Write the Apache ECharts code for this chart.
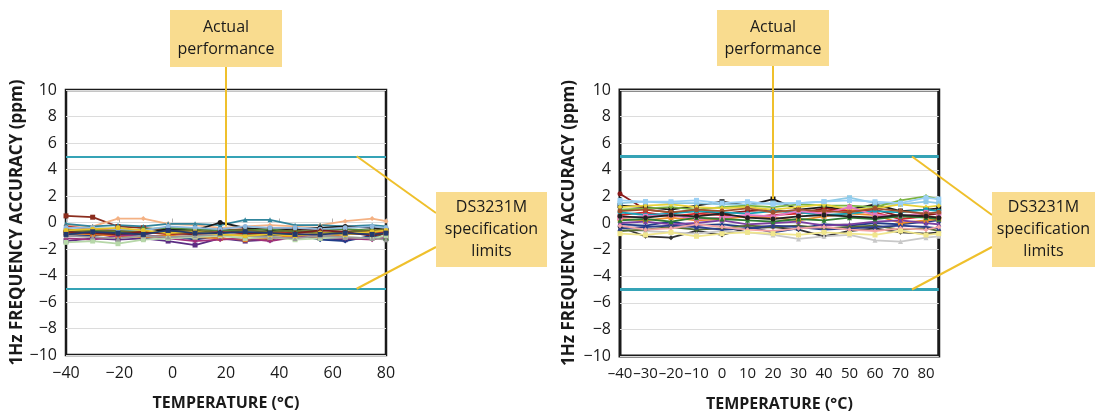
<!DOCTYPE html>
<html lang="en">
<head>
<meta charset="UTF-8">
<title>DS3231M accuracy</title>
<script src="https://cdn.jsdelivr.net/npm/echarts@6/dist/echarts.min.js"></script>
<style>
    html, body { margin: 0; padding: 0; background: #fff; }
    #main { width: 1098px; height: 412px; }
</style>
</head>
<body>
<div id="main"></div>
<script>
    // left chart: temperature samples (deg C)
    var leftTemps = [-40, -30, -20.5, -11, -1.7, 8.4, 17.8, 27.2, 36.5, 45.9, 55.3, 64.7, 74.8, 80]
    var leftColors = ['#8b2d1e', '#f4b183', '#31859c', '#1a1a1a', '#5b2c83', '#1f3c88', '#c0392b', '#4e8a3a', '#e67e22',
        '#a0307a', '#6b6b2a', '#8fb8de', '#b6d7a8', '#7a1f1f', '#999999', '#e6c229', '#233a6e']
    var leftRuns = [
        [0.5, 0.4, -0.3, -0.4, -0.6, -0.7, -0.6, -0.5, -0.5, -0.5, -0.6, -0.5, -0.7, -0.6],
        [-0.2, -0.3, 0.3, 0.3, -0.1, -0.2, -0.4, -0.3, -0.2, -0.3, -0.2, 0.1, 0.3, 0.1],
        [-0.1, -0.3, -0.2, -0.3, -0.1, -0.1, -0.2, 0.2, 0.2, -0.2, -0.2, -0.3, -0.2, -0.3],
        [-0.6, -0.9, -0.8, -0.8, -0.5, -0.6, 0.0, -0.4, -0.6, -0.5, -0.4, -0.3, -0.4, -0.5],
        [-1.4, -1.2, -1.3, -1.2, -1.4, -1.7, -1.2, -1.4, -1.3, -1.0, -1.2, -1.3, -1.1, -1.2],
        [-0.9, -1.0, -0.8, -1.1, -1.0, -1.3, -1.0, -0.9, -1.0, -0.9, -1.3, -1.4, -1.0, -1.1],
        [-0.3, -0.5, -0.6, -0.7, -0.9, -0.8, -1.1, -0.8, -0.7, -0.8, -0.7, -0.9, -0.8, -0.7],
        [-0.7, -0.6, -0.7, -0.5, -0.4, -0.5, -0.6, -0.6, -0.5, -0.7, -0.6, -0.5, -0.6, -1.3],
        [-0.8, -0.9, -1.0, -1.1, -1.0, -1.1, -1.2, -1.3, -1.2, -1.0, -1.1, -0.9, -0.8, -0.9],
        [-1.2, -1.3, -1.0, -0.9, -1.2, -1.4, -1.3, -1.2, -1.4, -1.1, -1.0, -1.2, -1.3, -1.1],
        [-0.5, -0.7, -0.6, -0.8, -0.7, -0.6, -0.8, -0.6, -0.7, -0.6, -0.8, -0.7, -0.6, -0.5],
        [-0.4, -0.4, -0.5, -0.6, -0.3, -0.4, -0.5, -0.3, -0.4, -0.4, -0.5, -0.4, -0.3, -0.4],
        [-1.5, -1.4, -1.6, -1.3, -1.2, -1.1, -1.0, -1.2, -1.1, -1.3, -1.2, -1.1, -1.2, -1.0],
        [-0.7, -0.8, -0.9, -0.7, -0.8, -0.9, -0.7, -0.8, -0.9, -0.8, -0.6, -0.7, -1.0, -0.8],
        [-1.0, -1.1, -1.2, -1.0, -1.1, -1.0, -0.9, -1.0, -1.1, -1.2, -1.0, -1.1, -1.2, -1.3],
        [-0.6, -0.5, -0.4, -0.6, -0.8, -0.7, -0.9, -1.0, -0.9, -1.0, -0.8, -0.9, -0.7, -0.6],
        [-0.9, -0.7, -0.8, -0.9, -0.6, -0.8, -0.8, -0.7, -0.8, -0.9, -0.9, -0.8, -0.9, -0.8]
    ]

    // right chart
    var rightTemps = [-40, -30, -20, -10, 0, 10, 20, 30, 40, 50, 60, 70, 80, 85]
    var rightColors = ['#1a1a1a', '#333333', '#c8c8c8', '#8b1a1a', '#8ecae6', '#7cb342', '#1f3c88', '#d62728', '#f28e2b',
        '#e8d23b', '#7b3fa0', '#17a2b8', '#e377c2', '#556b2f', '#2c3e8c', '#a0522d', '#9ad0f5', '#f4a6a6', '#2e7d32',
        '#222222', '#f0e68c']
    var rightRuns = [
        [1.3, 1.2, 1.0, 1.3, 1.6, 1.3, 1.8, 1.0, 1.2, 1.0, 1.4, 0.9, 1.0, 1.1],
        [-0.3, -1.0, -1.1, -0.6, -0.9, -0.4, -0.3, -0.5, -1.0, -0.6, -0.4, -0.7, -0.8, -0.7],
        [-0.5, -0.6, -0.7, -0.8, -0.6, -0.7, -0.9, -1.2, -1.0, -0.9, -1.3, -1.4, -1.1, -1.0],
        [2.2, 1.0, 0.8, 0.9, 0.7, 0.9, 1.0, 0.7, 1.1, 0.9, 1.0, 0.5, 0.6, 0.7],
        [1.5, 1.6, 1.5, 1.5, 1.4, 1.4, 1.5, 1.5, 1.6, 1.9, 1.5, 1.4, 1.6, 1.5],
        [1.0, 1.1, 1.2, 1.0, 1.2, 1.3, 1.2, 1.4, 1.3, 1.3, 1.2, 1.7, 2.0, 1.8],
        [-0.1, -0.2, 0.1, -0.2, -0.1, -0.3, -0.7, -0.4, -0.1, -0.2, 0.0, -0.1, 0.1, 0.2],
        [0.6, 0.8, 0.5, 0.7, 0.6, 0.4, 0.6, 0.7, 0.9, 1.0, 0.8, 0.3, 0.5, 0.4],
        [0.3, 0.2, 0.4, 0.2, 0.3, 0.5, 0.4, 0.2, 0.5, 0.7, 0.6, 0.0, 0.2, 0.3],
        [1.2, 1.3, 1.4, 1.2, 1.1, 1.2, 1.0, 1.2, 1.4, 1.0, 1.1, 1.4, 1.2, 1.3],
        [0.0, 0.1, -0.1, 0.0, 0.2, -0.1, 0.0, 0.1, -0.2, -0.1, 0.1, 0.2, 0.0, -0.1],
        [0.8, 0.6, 0.7, 0.9, 0.8, 0.7, 0.9, 0.8, 0.6, 0.7, 0.9, 0.8, 1.0, 0.9],
        [0.4, 0.5, 0.6, 0.3, 0.4, 0.6, 0.5, 0.9, 0.7, 1.2, 0.6, 0.5, 0.8, 0.7],
        [-0.6, -0.5, -0.3, -0.5, -0.4, -0.2, -0.3, -0.2, -0.4, -0.3, -0.2, -0.5, -0.4, -0.6],
        [-0.4, -0.3, -0.2, -0.3, -0.5, -0.4, -0.2, -0.3, -0.5, -0.4, -0.3, -0.2, -0.3, -0.4],
        [0.9, 1.0, 0.8, 1.0, 0.9, 1.1, 0.8, 1.0, 0.9, 0.8, 1.1, 0.9, 0.7, 0.8],
        [1.7, 1.6, 1.6, 1.7, 1.5, 1.6, 1.4, 1.5, 1.6, 1.7, 1.6, 1.5, 1.9, 1.8],
        [-0.2, -0.5, -0.4, -0.1, -0.3, -0.5, -0.6, -0.4, -0.3, -0.5, -0.6, -0.4, -0.5, -0.3],
        [0.2, 0.3, 0.1, 0.4, 0.3, 0.2, 0.1, 0.3, 0.2, 0.4, 0.3, 0.5, 0.4, 0.3],
        [0.5, 0.4, 0.6, 0.5, 0.7, 0.4, 0.3, 0.5, 0.6, 0.5, 0.4, 0.6, 0.5, 0.4],
        [-0.8, -0.9, -0.7, -1.0, -0.8, -0.7, -0.8, -0.9, -0.7, -0.8, -0.9, -0.6, -0.9, -0.8]
    ]

    var specLimits = [5, -5]

    var FONT = 'Open Sans'
    var symbols = ['rect', 'diamond', 'triangle', 'circle']

    function minus(v) {
        return v < 0 ? '\u2212' + Math.abs(v) : String(v)
    }
    // narrower dash for the crowded right axis
    function dash(v) {
        return v < 0 ? '\u2013' + Math.abs(v) : String(v)
    }

    function makeSeries(temps, runs, colors, idx, specWidth) {
        let out = runs.map(function (run, i) {
            return {
                type: 'line',
                xAxisIndex: idx,
                yAxisIndex: idx,
                data: run.map(function (v, j) { return [temps[j], v] }),
                symbol: symbols[i % symbols.length],
                symbolSize: 5,
                showSymbol: true,
                lineStyle: { width: 1.8, color: colors[i] },
                itemStyle: { color: colors[i] },
                animation: false,
                silent: true
            }
        })
        // spec limit lines
        out.push({
            type: 'line',
            xAxisIndex: idx,
            yAxisIndex: idx,
            data: [],
            animation: false,
            markLine: {
                silent: true,
                symbol: 'none',
                label: { show: false },
                lineStyle: { color: '#35a3b6', width: specWidth, type: 'solid' },
                data: specLimits.map(function (v) { return { yAxis: v } })
            }
        })
        return out
    }

    function yAxisOf(idx, gap) {
        return {
            type: 'value',
            gridIndex: idx,
            min: -10,
            max: 10,
            interval: 2,
            name: '1Hz FREQUENCY ACCURACY (ppm)',
            nameLocation: 'middle',
            nameGap: gap,
            nameRotate: 90,
            nameTextStyle: { fontFamily: FONT, fontWeight: 'bold', fontSize: 17, color: '#1a1a1a' },
            axisLine: { show: false },
            axisTick: { show: false },
            axisLabel: { fontFamily: FONT, fontSize: 16, color: '#1a1a1a', margin: 9, formatter: minus },
            splitLine: { lineStyle: { color: '#dcdcdc', width: 1 } }
        }
    }

    function xAxisOf(idx, max, step, size, fmt) {
        return {
            type: 'value',
            gridIndex: idx,
            min: -40,
            max: max,
            interval: step,
            name: 'TEMPERATURE (\u00b0C)',
            nameLocation: 'middle',
            nameGap: 40,
            nameTextStyle: { fontFamily: FONT, fontWeight: 'bold', fontSize: 16, color: '#1a1a1a' },
            axisLine: { show: false },
            axisTick: { show: true, inside: true, length: 4, lineStyle: { color: '#b0b0b0' } },
            axisLabel: {
                fontFamily: FONT, fontSize: size, color: '#1a1a1a', margin: 10,
                showMinLabel: true, showMaxLabel: max % step === 0, formatter: fmt
            },
            splitLine: { show: false }
        }
    }

    let chart = echarts.init(document.getElementById('main'))

    let option = {
        backgroundColor: '#fff',
        animation: false,
        grid: [
            { left: 66, top: 90, width: 320, height: 265, show: true, borderColor: '#1a1a1a', borderWidth: 2.5, outerBoundsMode: 'none', containLabel: false },
            { left: 620, top: 90, width: 318.75, height: 266, show: true, borderColor: '#1a1a1a', borderWidth: 3, outerBoundsMode: 'none', containLabel: false }
        ],
        xAxis: [xAxisOf(0, 80, 20, 16, minus), xAxisOf(1, 85, 10, 15, dash)],
        yAxis: [yAxisOf(0, 38), yAxisOf(1, 42)],
        series: makeSeries(leftTemps, leftRuns, leftColors, 0, 2)
            .concat(makeSeries(rightTemps, rightRuns, rightColors, 1, 3))
    }
    chart.setOption(option)

    // callouts, anchored to points of the chart
    var BOX = '#f9dc8f'
    var LEAD = '#efc02c'

    function px(grid, pt) {
        return chart.convertToPixel({ gridIndex: grid }, pt)
    }

    function box(x, y, w, h, lines, lh) {
        let els = [{
            type: 'rect',
            shape: { x: x, y: y, width: w, height: h },
            style: { fill: BOX },
            z: 10
        }]
        let top = y + h / 2 - lines.length * lh / 2
        lines.forEach(function (t, i) {
            els.push({
                type: 'text',
                x: x + w / 2,
                y: top + lh * i + lh / 2,
                style: { text: t, fill: '#1a1a1a', font: '16px "' + FONT + '"', align: 'center', verticalAlign: 'middle' },
                z: 11
            })
        })
        return els
    }

    function lead(a, b) {
        return {
            type: 'line',
            shape: { x1: a[0], y1: a[1], x2: b[0], y2: b[1] },
            style: { stroke: LEAD, lineWidth: 2 },
            z: 9
        }
    }

    let els = []
    // left
    let pA = px(0, [20, -0.3])
    els = els.concat(box(pA[0] - 56, 10, 112, 57, ['Actual', 'performance'], 22))
    els.push(lead([pA[0], 67], pA))
    els = els.concat(box(436, 192, 111, 75, ['DS3231M', 'specification', 'limits'], 22))
    els.push(lead(px(0, [69, 5]), [436, 213]))
    els.push(lead(px(0, [69, -5]), [436, 247]))
    // right
    let pB = px(1, [20, 1.8])
    els = els.concat(box(pB[0] - 56, 10, 112, 56, ['Actual', 'performance'], 22))
    els.push(lead([pB[0], 66], pB))
    els = els.concat(box(992, 192, 103, 75, ['DS3231M', 'specification', 'limits'], 22))
    els.push(lead(px(1, [74.5, 5]), [992, 215]))
    els.push(lead(px(1, [74.5, -5]), [992, 247]))

    chart.setOption({ graphic: { elements: els } })
</script>
</body>
</html>
